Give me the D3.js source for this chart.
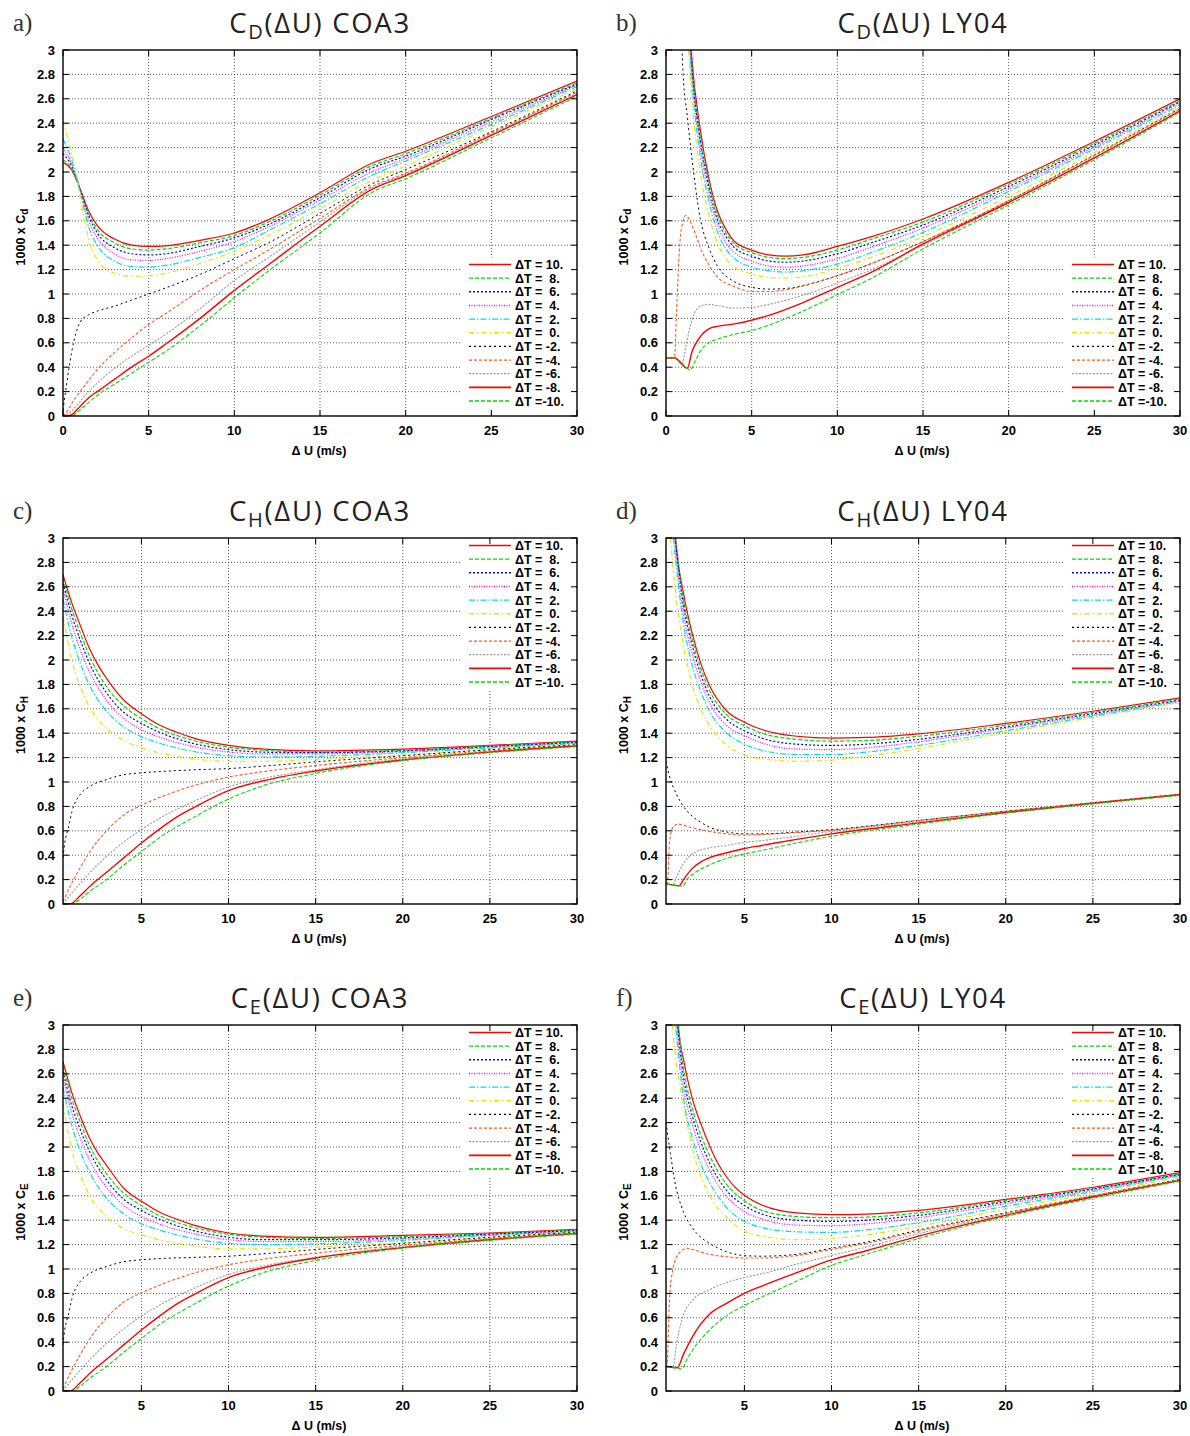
<!DOCTYPE html>
<html><head><meta charset="utf-8">
<script src="https://cdn.jsdelivr.net/npm/d3@7"></script>
<style>
body{margin:0;background:#fff}
svg{display:block}
.tick{font-family:"Liberation Sans",Arial,sans-serif;font-weight:bold;font-size:13px;fill:#000}
.alab{font-family:"Liberation Sans",Arial,sans-serif;font-weight:bold;font-size:12.5px;fill:#000}
.leg{font-family:"Liberation Sans",Arial,sans-serif;font-weight:bold;font-size:12.5px;fill:#000;white-space:pre}
.ttl{font-family:"Open Sans","Noto Sans",sans-serif;font-weight:400;font-size:27.5px;letter-spacing:1.7px;fill:#222}
.plet{font-family:"Liberation Serif","DejaVu Serif",serif;font-size:25px;fill:#333}
</style>
</head><body>
<svg id="chart" width="1190" height="1436"></svg>
<script>
// ---------------- data ----------------
const deltaT = [10, 8, 6, 4, 2, 0, -2, -4, -6, -8, -10];
const legendLabels = ["ΔT = 10.","ΔT =  8.","ΔT =  6.","ΔT =  4.","ΔT =  2.","ΔT =  0.","ΔT = -2.","ΔT = -4.","ΔT = -6.","ΔT = -8.","ΔT =-10."];
const yTicks = [0,0.2,0.4,0.6,0.8,1,1.2,1.4,1.6,1.8,2,2.2,2.4,2.6,2.8,3];
const xTicksFull = [0,5,10,15,20,25,30];
const xTicksHalf = [5,10,15,20,25,30];
const panelLetters = ["a)","b)","c)","d)","e)","f)"];
const panelSchemes = ["COA3","LY04","COA3","LY04","COA3","LY04"];
const panelCoef = ["D","D","H","H","E","E"];
const yLabelSub = ["d","d","H","H","E","E"];

// a) C_D COA3 : [ΔU, 1000*Cd] per ΔT
const cdCOA3 = [
 [[0,2.08],[0.5,2.02],[1,1.86],[1.5,1.68],[2,1.56],[3,1.45],[4,1.40],[5,1.39],[6,1.395],[8,1.44],[10,1.50],[12,1.61],[15,1.83],[18,2.07],[20,2.17],[25,2.455],[30,2.745]],
 [[0,2.1],[0.5,2.03],[1,1.86],[1.5,1.66],[2,1.53],[3,1.42],[4,1.37],[5,1.36],[6,1.37],[8,1.42],[10,1.48],[12,1.59],[15,1.81],[18,2.05],[20,2.15],[25,2.44],[30,2.73]],
 [[0,2.15],[0.5,2.05],[1,1.86],[1.5,1.64],[2,1.50],[3,1.38],[4,1.33],[5,1.32],[6,1.33],[8,1.39],[10,1.46],[12,1.57],[15,1.79],[18,2.03],[20,2.13],[25,2.43],[30,2.72]],
 [[0,2.2],[0.5,2.07],[1,1.85],[1.5,1.6],[2,1.46],[3,1.33],[4,1.28],[5,1.275],[6,1.29],[8,1.35],[10,1.43],[12,1.55],[15,1.77],[18,2.0],[20,2.11],[25,2.41],[30,2.71]],
 [[0,2.27],[0.5,2.1],[1,1.84],[1.5,1.55],[2,1.4],[3,1.27],[4,1.225],[5,1.22],[6,1.235],[8,1.30],[10,1.38],[12,1.52],[15,1.74],[18,1.97],[20,2.09],[25,2.39],[30,2.70]],
 [[0,2.42],[0.5,2.15],[1,1.8],[1.5,1.45],[2,1.28],[3,1.17],[4,1.145],[5,1.15],[6,1.17],[8,1.25],[10,1.35],[12,1.48],[15,1.70],[18,1.93],[20,2.05],[25,2.37],[30,2.68]],
 [[0,0.05],[0.2,0.25],[0.5,0.52],[0.8,0.7],[1,0.77],[1.5,0.83],[2,0.86],[3,0.9],[4,0.95],[5,1.0],[6,1.05],[8,1.16],[10,1.29],[12,1.42],[15,1.66],[18,1.9],[20,2.02],[25,2.33],[30,2.665]],
 [[0,0],[0.3,0.05],[0.5,0.1],[1,0.2],[1.5,0.29],[2,0.38],[3,0.52],[4,0.64],[5,0.75],[6,0.84],[8,1.03],[10,1.2],[12,1.36],[15,1.62],[18,1.88],[20,1.99],[25,2.32],[30,2.655]],
 [[0,0],[0.5,0.04],[1,0.12],[1.5,0.2],[2,0.27],[3,0.39],[4,0.49],[5,0.58],[6,0.67],[8,0.88],[10,1.11],[12,1.3],[15,1.59],[18,1.87],[20,1.98],[25,2.31],[30,2.645]],
 [[0.3,0],[0.6,0.02],[1,0.08],[1.5,0.15],[2,0.2],[3,0.3],[4,0.4],[5,0.49],[6,0.59],[8,0.8],[10,1.03],[12,1.24],[15,1.555],[18,1.855],[20,1.97],[25,2.3],[30,2.635]],
 [[0.6,0],[1,0.05],[1.5,0.11],[2,0.17],[3,0.26],[4,0.35],[5,0.44],[6,0.53],[8,0.74],[10,0.97],[12,1.19],[15,1.5],[18,1.83],[20,1.945],[25,2.28],[30,2.62]]
];

// b) C_D LY04
const cdLY04 = [
 [[1.3,3.4],[1.5,2.95],[2,2.35],[2.5,1.95],[3,1.68],[3.5,1.53],[4,1.43],[5,1.36],[6,1.32],[7,1.31],[8,1.32],[10,1.39],[12,1.47],[15,1.615],[20,1.915],[25,2.25],[30,2.6]],
 [[1.28,3.4],[1.5,2.9],[2,2.3],[2.5,1.92],[3,1.65],[3.5,1.5],[4,1.41],[5,1.34],[6,1.3],[7,1.29],[8,1.3],[10,1.36],[12,1.45],[15,1.59],[20,1.9],[25,2.235],[30,2.585]],
 [[1.26,3.4],[1.5,2.87],[2,2.26],[2.5,1.88],[3,1.61],[3.5,1.47],[4,1.38],[5,1.31],[6,1.27],[7,1.26],[8,1.27],[10,1.33],[12,1.42],[15,1.565],[20,1.88],[25,2.22],[30,2.575]],
 [[1.24,3.4],[1.5,2.83],[2,2.21],[2.5,1.83],[3,1.57],[3.5,1.42],[4,1.34],[5,1.27],[6,1.23],[7,1.22],[8,1.23],[10,1.29],[12,1.385],[15,1.54],[20,1.86],[25,2.205],[30,2.565]],
 [[1.2,3.4],[1.5,2.76],[2,2.13],[2.5,1.76],[3,1.51],[3.5,1.37],[4,1.29],[5,1.22],[6,1.19],[7,1.18],[8,1.19],[10,1.245],[12,1.34],[15,1.505],[20,1.84],[25,2.19],[30,2.55]],
 [[1.15,3.4],[1.5,2.62],[2,2.0],[2.5,1.65],[3,1.42],[3.5,1.29],[4,1.22],[5,1.165],[6,1.135],[7,1.13],[8,1.14],[10,1.21],[12,1.3],[15,1.47],[20,1.8],[25,2.16],[30,2.53]],
 [[0.85,3.3],[1,2.8],[1.25,2.45],[1.5,2.13],[2,1.62],[2.5,1.38],[3,1.23],[4,1.1],[5,1.055],[6,1.04],[7,1.045],[8,1.07],[10,1.15],[12,1.25],[15,1.43],[20,1.765],[25,2.14],[30,2.52]],
 [[0,0.475],[0.5,0.475],[0.6,0.8],[0.8,1.4],[1.0,1.6],[1.15,1.645],[1.4,1.6],[1.7,1.5],[2,1.38],[2.5,1.24],[3,1.14],[4,1.06],[5,1.02],[6,1.02],[7,1.035],[8,1.065],[10,1.15],[12,1.25],[15,1.43],[20,1.765],[25,2.135],[30,2.515]],
 [[0,0.475],[0.5,0.475],[0.9,0.43],[1.0,0.45],[1.2,0.6],[1.5,0.78],[2,0.9],[2.5,0.915],[3,0.905],[4,0.885],[5,0.89],[6,0.915],[8,0.99],[10,1.09],[12,1.2],[15,1.4],[20,1.75],[25,2.12],[30,2.505]],
 [[0,0.475],[0.5,0.475],[1.25,0.39],[1.5,0.52],[2,0.65],[2.5,0.715],[3,0.735],[4,0.755],[5,0.785],[6,0.825],[8,0.93],[10,1.055],[12,1.18],[15,1.41],[20,1.75],[25,2.115],[30,2.5]],
 [[0,0.475],[0.5,0.475],[1.25,0.39],[1.4,0.375],[1.7,0.45],[2,0.53],[2.5,0.6],[3,0.63],[4,0.67],[5,0.70],[6,0.745],[8,0.86],[10,0.995],[12,1.13],[15,1.37],[20,1.73],[25,2.1],[30,2.49]]
];

// c) C_H COA3
const chCOA3 = [
 [[0.5,2.7],[1,2.47],[1.5,2.28],[2,2.1],[2.5,1.96],[3,1.85],[4,1.67],[5,1.56],[6,1.47],[7,1.41],[8,1.36],[10,1.30],[12,1.27],[15,1.255],[20,1.27],[25,1.30],[30,1.335]],
 [[0.5,2.67],[1,2.42],[1.5,2.22],[2,2.04],[3,1.78],[4,1.62],[5,1.52],[6,1.44],[8,1.34],[10,1.285],[12,1.26],[15,1.245],[20,1.26],[25,1.295],[30,1.33]],
 [[0.5,2.63],[1,2.37],[1.5,2.16],[2,1.98],[3,1.73],[4,1.57],[5,1.48],[6,1.41],[8,1.315],[10,1.265],[12,1.245],[15,1.24],[20,1.255],[25,1.29],[30,1.325]],
 [[0.5,2.58],[1,2.3],[1.5,2.08],[2,1.91],[3,1.67],[4,1.52],[5,1.43],[6,1.37],[8,1.29],[10,1.245],[12,1.23],[15,1.23],[20,1.25],[25,1.285],[30,1.32]],
 [[0.5,2.5],[1,2.19],[1.5,1.97],[2,1.8],[3,1.58],[4,1.45],[5,1.37],[6,1.32],[8,1.25],[10,1.215],[12,1.205],[15,1.21],[20,1.24],[25,1.28],[30,1.315]],
 [[0.5,2.36],[1,2.0],[1.5,1.78],[2,1.62],[3,1.44],[4,1.34],[5,1.28],[6,1.24],[8,1.19],[10,1.17],[12,1.17],[15,1.185],[20,1.22],[25,1.265],[30,1.305]],
 [[0.5,0.38],[0.6,0.5],[0.8,0.62],[1,0.75],[1.5,0.9],[2,0.96],[3,1.02],[4,1.06],[5,1.075],[6,1.085],[8,1.1],[10,1.11],[12,1.13],[15,1.165],[20,1.215],[25,1.265],[30,1.305]],
 [[0.5,0.02],[1,0.17],[1.5,0.3],[2,0.42],[3,0.6],[4,0.73],[5,0.81],[6,0.87],[8,0.97],[10,1.04],[12,1.085],[15,1.135],[20,1.2],[25,1.255],[30,1.3]],
 [[0.5,0.0],[1,0.09],[1.5,0.17],[2,0.25],[3,0.39],[4,0.51],[5,0.61],[6,0.7],[8,0.84],[10,0.96],[12,1.03],[15,1.1],[20,1.19],[25,1.25],[30,1.3]],
 [[0.5,0.0],[0.9,0.0],[1.5,0.07],[2,0.14],[3,0.26],[4,0.38],[5,0.5],[6,0.61],[7,0.71],[8,0.79],[10,0.93],[12,1.01],[15,1.09],[20,1.18],[25,1.245],[30,1.295]],
 [[0.6,0.0],[1,0.0],[1.5,0.04],[2,0.1],[3,0.2],[4,0.32],[5,0.43],[6,0.54],[8,0.71],[10,0.86],[12,0.97],[15,1.07],[20,1.175],[25,1.24],[30,1.29]]
];

// d) C_H LY04
const chLY04 = [
 [[1.0,3.1],[1.05,3.0],[1.5,2.55],[2,2.22],[2.5,1.97],[3,1.79],[4,1.58],[5,1.49],[6,1.43],[7,1.395],[8,1.375],[10,1.36],[12,1.365],[15,1.395],[20,1.48],[25,1.58],[30,1.69]],
 [[0.97,3.1],[1.5,2.5],[2,2.17],[2.5,1.93],[3,1.75],[4,1.55],[5,1.46],[6,1.40],[8,1.35],[10,1.335],[12,1.34],[15,1.375],[20,1.465],[25,1.57],[30,1.68]],
 [[0.94,3.1],[1.5,2.45],[2,2.12],[2.5,1.88],[3,1.7],[4,1.51],[5,1.42],[6,1.36],[8,1.31],[10,1.30],[12,1.31],[15,1.35],[20,1.45],[25,1.56],[30,1.67]],
 [[0.9,3.1],[1.5,2.38],[2,2.05],[2.5,1.82],[3,1.65],[4,1.46],[5,1.38],[6,1.32],[8,1.27],[10,1.265],[12,1.28],[15,1.33],[20,1.44],[25,1.55],[30,1.665]],
 [[0.85,3.1],[1.5,2.3],[2,1.96],[2.5,1.74],[3,1.58],[4,1.40],[5,1.31],[6,1.26],[8,1.225],[10,1.225],[12,1.245],[15,1.3],[20,1.42],[25,1.54],[30,1.66]],
 [[0.7,3.1],[1,2.62],[1.5,2.12],[2,1.8],[2.5,1.6],[3,1.46],[4,1.3],[5,1.22],[6,1.19],[8,1.17],[10,1.18],[12,1.21],[15,1.275],[20,1.405],[25,1.53],[30,1.65]],
 [[0.5,1.17],[0.75,1.02],[1,0.93],[1.5,0.8],[2,0.72],[2.5,0.67],[3,0.63],[4,0.59],[5,0.575],[6,0.575],[8,0.59],[10,0.61],[15,0.685],[20,0.76],[25,0.83],[30,0.9]],
 [[0.5,0.17],[0.58,0.17],[0.7,0.5],[0.9,0.63],[1.2,0.655],[1.5,0.645],[2,0.625],[3,0.595],[4,0.575],[5,0.565],[6,0.57],[8,0.585],[10,0.605],[15,0.685],[20,0.76],[25,0.83],[30,0.9]],
 [[0.5,0.17],[0.9,0.16],[1.1,0.22],[1.5,0.33],[2,0.41],[3,0.46],[4,0.48],[5,0.505],[6,0.52],[8,0.555],[10,0.595],[15,0.675],[20,0.755],[25,0.825],[30,0.895]],
 [[0.5,0.165],[1.25,0.15],[1.5,0.2],[2,0.29],[2.5,0.345],[3,0.38],[4,0.42],[5,0.455],[6,0.48],[8,0.53],[10,0.575],[15,0.665],[20,0.75],[25,0.825],[30,0.895]],
 [[0.5,0.165],[1.25,0.15],[1.45,0.145],[1.7,0.2],[2,0.24],[3,0.32],[4,0.375],[5,0.41],[6,0.44],[8,0.5],[10,0.555],[15,0.655],[20,0.745],[25,0.82],[30,0.89]]
];

// e) C_E COA3
const ceCOA3 = [
 [[0.5,2.7],[1,2.45],[1.5,2.25],[2,2.08],[2.5,1.95],[3,1.85],[4,1.66],[5,1.555],[6,1.47],[7,1.41],[8,1.36],[10,1.295],[12,1.27],[15,1.26],[20,1.275],[25,1.295],[30,1.325]],
 [[0.5,2.66],[1,2.4],[1.5,2.2],[2,2.02],[3,1.78],[4,1.62],[5,1.52],[6,1.44],[8,1.34],[10,1.285],[12,1.26],[15,1.25],[20,1.265],[25,1.29],[30,1.32]],
 [[0.5,2.62],[1,2.34],[1.5,2.14],[2,1.97],[3,1.73],[4,1.57],[5,1.48],[6,1.41],[8,1.315],[10,1.26],[12,1.24],[15,1.24],[20,1.255],[25,1.285],[30,1.315]],
 [[0.5,2.57],[1,2.28],[1.5,2.07],[2,1.9],[3,1.67],[4,1.52],[5,1.43],[6,1.37],[8,1.29],[10,1.24],[12,1.225],[15,1.225],[20,1.245],[25,1.28],[30,1.31]],
 [[0.5,2.49],[1,2.18],[1.5,1.96],[2,1.8],[3,1.58],[4,1.45],[5,1.37],[6,1.32],[8,1.25],[10,1.21],[12,1.2],[15,1.205],[20,1.235],[25,1.275],[30,1.305]],
 [[0.5,2.35],[1,1.98],[1.5,1.77],[2,1.61],[3,1.43],[4,1.33],[5,1.28],[6,1.24],[8,1.19],[10,1.165],[12,1.165],[15,1.18],[20,1.215],[25,1.26],[30,1.3]],
 [[0.5,0.38],[0.6,0.5],[0.8,0.62],[1,0.75],[1.5,0.9],[2,0.96],[3,1.02],[4,1.06],[5,1.075],[6,1.085],[8,1.095],[10,1.105],[12,1.125],[15,1.16],[20,1.21],[25,1.26],[30,1.3]],
 [[0.5,0.02],[1,0.17],[1.5,0.3],[2,0.42],[3,0.6],[4,0.73],[5,0.805],[6,0.865],[8,0.965],[10,1.035],[12,1.08],[15,1.13],[20,1.195],[25,1.25],[30,1.295]],
 [[0.5,0],[1,0.09],[1.5,0.17],[2,0.25],[3,0.39],[4,0.51],[5,0.615],[6,0.7],[8,0.84],[10,0.955],[12,1.025],[15,1.095],[20,1.185],[25,1.245],[30,1.295]],
 [[0.5,0],[0.9,0],[1.5,0.07],[2,0.14],[3,0.26],[4,0.38],[5,0.5],[6,0.61],[7,0.71],[8,0.79],[10,0.93],[12,1.01],[15,1.09],[20,1.175],[25,1.24],[30,1.29]],
 [[0.6,0],[1,0],[1.5,0.04],[2,0.1],[3,0.2],[4,0.32],[5,0.43],[6,0.54],[8,0.71],[10,0.86],[12,0.97],[15,1.07],[20,1.17],[25,1.235],[30,1.285]]
];

// f) C_E LY04
const ceLY04 = [
 [[1.15,3.15],[1.2,3.0],[1.5,2.72],[2,2.4],[2.5,2.19],[3,2.01],[3.5,1.86],[4,1.75],[4.5,1.665],[5,1.605],[6,1.525],[7,1.48],[8,1.46],[10,1.445],[12,1.45],[15,1.48],[20,1.57],[25,1.67],[30,1.79]],
 [[1.1,3.15],[1.5,2.65],[2,2.32],[2.5,2.1],[3,1.93],[4,1.69],[5,1.56],[6,1.48],[8,1.43],[10,1.42],[12,1.425],[15,1.46],[20,1.56],[25,1.66],[30,1.78]],
 [[1.05,3.15],[1.5,2.58],[2,2.26],[2.5,2.04],[3,1.87],[4,1.64],[5,1.52],[6,1.45],[8,1.40],[10,1.39],[12,1.4],[15,1.44],[20,1.55],[25,1.655],[30,1.775]],
 [[1.0,3.15],[1.5,2.5],[2,2.19],[2.5,1.97],[3,1.81],[4,1.59],[5,1.47],[6,1.41],[8,1.36],[10,1.355],[12,1.37],[15,1.42],[20,1.535],[25,1.645],[30,1.77]],
 [[0.95,3.15],[1.5,2.4],[2,2.08],[2.5,1.86],[3,1.71],[4,1.5],[5,1.39],[6,1.34],[8,1.305],[10,1.30],[12,1.32],[15,1.38],[20,1.515],[25,1.635],[30,1.765]],
 [[0.8,3.1],[1,2.8],[1.5,2.35],[2,2.0],[2.5,1.76],[3,1.6],[4,1.42],[5,1.31],[6,1.27],[8,1.24],[10,1.25],[12,1.28],[15,1.35],[20,1.49],[25,1.62],[30,1.75]],
 [[0.5,2.2],[0.75,1.95],[1,1.72],[1.5,1.47],[2,1.34],[2.5,1.26],[3,1.21],[4,1.14],[5,1.11],[6,1.105],[8,1.12],[10,1.17],[12,1.22],[15,1.32],[20,1.46],[25,1.6],[30,1.735]],
 [[0.5,0.2],[0.55,0.2],[0.7,0.75],[0.9,1.0],[1.2,1.12],[1.7,1.17],[2,1.16],[3,1.12],[4,1.1],[5,1.09],[6,1.09],[8,1.11],[10,1.16],[12,1.21],[15,1.31],[20,1.455],[25,1.6],[30,1.73]],
 [[0.5,0.2],[0.9,0.2],[1.1,0.38],[1.4,0.58],[2,0.74],[3,0.83],[4,0.89],[5,0.93],[6,0.96],[8,1.04],[10,1.11],[12,1.18],[15,1.29],[20,1.445],[25,1.595],[30,1.73]],
 [[0.5,0.2],[1.15,0.19],[1.5,0.3],[2,0.44],[2.5,0.55],[3,0.63],[4,0.72],[5,0.8],[6,0.86],[8,0.97],[10,1.075],[12,1.15],[15,1.27],[20,1.44],[25,1.59],[30,1.725]],
 [[0.5,0.2],[1.15,0.19],[1.4,0.18],[1.7,0.26],[2,0.33],[3,0.5],[4,0.62],[5,0.7],[6,0.77],[8,0.9],[10,1.03],[12,1.12],[15,1.25],[20,1.43],[25,1.58],[30,1.72]]
];

// ---------------- styles ----------------
const seriesColors = ["#ff0000","#00dd00","#0000ff","#ff00ff","#00e0e0","#e6e600","#000000","#ff5a1e","#999999","#ff0000","#00dd00"];
const seriesDash = [null,"4,2","2,2","1,1.5","6,2,1.5,2","5,3,1.5,3","2,3","3,2","2,1.5",null,"4,2"];
const seriesWidth = [1.2,1.2,1.2,1.2,1.2,1.2,1,1.1,1.1,1.4,1.1];

// ---------------- layout ----------------
const colLeft = [63, 666];
const plotW = 514;
const rowTop = [50, 538, 1025];
const plotH = 366;

const panelData = [cdCOA3, cdLY04, chCOA3, chLY04, ceCOA3, ceLY04];

const svg = d3.select("#chart");

panelData.forEach((series, pi) => {
  const col = pi % 2, row = Math.floor(pi / 2);
  const L = colLeft[col], T = rowTop[row], R = L + plotW, B = T + plotH;
  const xmin = row === 0 ? 0 : 0.5;
  const xTicks = row === 0 ? xTicksFull : xTicksHalf;
  const legendTop = row !== 0;

  const x = d3.scaleLinear().domain([xmin, 30]).range([L, R]);
  const y = d3.scaleLinear().domain([0, 3]).range([B, T]);

  const g = svg.append("g");

  const clipId = "clip" + pi;
  svg.append("clipPath").attr("id", clipId).append("rect")
    .attr("x", L).attr("y", T).attr("width", plotW).attr("height", plotH);

  // grid
  const grid = g.append("g").attr("stroke", "#333").attr("stroke-width", 0.8).attr("stroke-dasharray", "1,2");
  grid.selectAll("line.gx").data(xTicks.filter(v => v > xmin && v < 30)).enter().append("line")
    .attr("x1", d => x(d)).attr("x2", d => x(d)).attr("y1", T).attr("y2", B);
  grid.selectAll("line.gy").data(yTicks.filter(v => v > 0 && v < 3)).enter().append("line")
    .attr("x1", L).attr("x2", R).attr("y1", d => y(d)).attr("y2", d => y(d));

  // legend box (opaque)
  const step = 13.65;
  const legY = i => legendTop ? (T + 7.5 + i * step) : (B - 15 - (10 - i) * step);
  g.append("rect")
    .attr("x", R - 116).attr("y", legY(0) - 7)
    .attr("width", 114).attr("height", legY(10) - legY(0) + 14)
    .attr("fill", "#fff");

  // curves
  const line = d3.line().x(d => x(d[0])).y(d => y(d[1])).curve(d3.curveMonotoneX);
  const cg = g.append("g").attr("clip-path", `url(#${clipId})`);
  series.forEach((s, i) => {
    cg.append("path").attr("d", line(s))
      .attr("fill", "none")
      .attr("stroke", seriesColors[i])
      .attr("stroke-width", seriesWidth[i])
      .attr("stroke-dasharray", seriesDash[i])
      .attr("stroke-linejoin", "round");
  });

  // frame
  g.append("rect").attr("x", L).attr("y", T).attr("width", plotW).attr("height", plotH)
    .attr("fill", "none").attr("stroke", "#000").attr("stroke-width", 1.4);

  // ticks (inward, mirrored)
  const tk = g.append("g").attr("stroke", "#000").attr("stroke-width", 1);
  yTicks.forEach(v => {
    tk.append("line").attr("x1", L).attr("x2", L + 6).attr("y1", y(v)).attr("y2", y(v));
    tk.append("line").attr("x1", R).attr("x2", R - 6).attr("y1", y(v)).attr("y2", y(v));
  });
  xTicks.forEach(v => {
    tk.append("line").attr("x1", x(v)).attr("x2", x(v)).attr("y1", B).attr("y2", B - 6);
    tk.append("line").attr("x1", x(v)).attr("x2", x(v)).attr("y1", T).attr("y2", T + 6);
  });

  // tick labels
  g.selectAll("text.yt").data(yTicks).enter().append("text").attr("class", "tick")
    .attr("x", L - 8).attr("y", d => y(d)).attr("dy", "0.36em").attr("text-anchor", "end")
    .text(d => d3.format("~g")(d));
  g.selectAll("text.xt").data(xTicks).enter().append("text").attr("class", "tick")
    .attr("x", d => x(d)).attr("y", B + 19).attr("text-anchor", "middle")
    .text(d => d);

  // axis labels
  const yl = g.append("text").attr("class", "alab")
    .attr("transform", `translate(${L - 38},${(T + B) / 2 + 4}) rotate(-90)`)
    .attr("text-anchor", "middle");
  yl.append("tspan").text("1000 x C");
  yl.append("tspan").attr("dy", 3).attr("font-size", "10px").text(yLabelSub[pi]);

  g.append("text").attr("class", "alab").attr("font-size", "13px")
    .attr("x", (L + R) / 2 - 1).attr("y", B + 39).attr("text-anchor", "middle")
    .text("Δ U (m/s)");

  // title
  const tt = g.append("text").attr("class", "ttl")
    .attr("x", (L + R) / 2).attr("y", T - 17).attr("text-anchor", "middle");
  tt.append("tspan").text("C");
  tt.append("tspan").attr("dy", 6).attr("font-size", "20px").text(panelCoef[pi]);
  tt.append("tspan").attr("dy", -6).text("(ΔU) " + panelSchemes[pi]);

  // panel letter
  g.append("text").attr("class", "plet")
    .attr("x", col === 0 ? 13 : 616).attr("y", T - 19)
    .text(panelLetters[pi]);

  // legend entries
  const lg = g.append("g");
  deltaT.forEach((dt, i) => {
    const yy = legY(i);
    lg.append("line").attr("x1", R - 108).attr("x2", R - 66).attr("y1", yy).attr("y2", yy)
      .attr("stroke", seriesColors[i]).attr("stroke-width", seriesWidth[i] + 0.2)
      .attr("stroke-dasharray", seriesDash[i]);
    lg.append("text").attr("class", "leg")
      .attr("x", R - 62).attr("y", yy).attr("dy", "0.36em")
      .text(legendLabels[i]);
  });
});
</script>
</body></html>
